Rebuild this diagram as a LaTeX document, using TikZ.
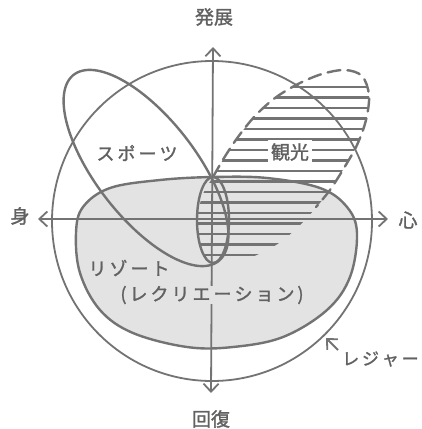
\documentclass[tikz,border=0pt]{standalone}
\usepackage{fontspec}
\newfontfamily\jp{Noto Sans CJK JP}[FakeBold=1.5]
\usetikzlibrary{arrows.meta}
\begin{document}
\begin{tikzpicture}[x=1pt,y=-1pt,
  ln/.style={draw=black!55, line width=2.4pt, line cap=round, line join=round},
  thinln/.style={draw=black!55, line width=1.8pt},
  ax/.style={draw=black!55, line width=1.8pt, >={Straight Barb[length=8pt,width=15pt]}},
  lbl/.style={text=black!62, font=\jp\fontsize{18}{20}\selectfont, inner sep=1pt},
  big/.style={text=black!62, font=\jp\fontsize{19}{21}\selectfont, inner sep=1pt},
]
\useasboundingbox[fill=white] (0,0) rectangle (421,429);

% resort (recreation) region
\def\resort{(213,177) (267,178) (320,188) (347,207) (357,233) (350,277) (327,310) (283,337) (233,347) (187,347) (133,333) (100,310) (80,273) (76,233) (83,207) (110,188) (160,180)}
\fill[black!11] plot[smooth cycle, tension=0.6] coordinates {\resort};

% sightseeing hatched region
\begin{scope}
  \clip plot[smooth cycle, tension=0.55] coordinates {(213,177) (224,158) (238,137) (255,116) (275,98) (298,84) (322,74) (345,70) (362,76) (369,95) (366,120) (357,145) (344,168) (330,190) (314,210) (296,229) (276,245) (252,257) (230,263) (213,264) (200,247) (197,220) (203,194)};
  \foreach \yy in {87,97.5,108,118.5,129,139.5,150,160.5,171,181.5,192,202.5,213,223.5,234,244.5,255} 
    \draw[black!55, line width=2.4pt] (180,\yy) -- (380,\yy);
\end{scope}

% resort outline
\draw[ln] plot[smooth cycle, tension=0.6] coordinates {\resort};

% leisure circle
\draw[thinln] (212,221) circle[radius=160];

% sports ellipse
\draw[ln] plot[domain=0:360, samples=120, smooth] ({146+118*cos(\x)*0.613-50*sin(\x)*0.790}, {168+118*cos(\x)*0.790+50*sin(\x)*0.613});

% small ellipse at centre
\draw[ln] (213,220) ellipse[x radius=16, y radius=43];

% dashed outline of sightseeing
\draw[ln, dash pattern=on 13pt off 7pt] plot[smooth, tension=0.55] coordinates {(213,177) (224,158) (238,137) (255,116) (275,98) (298,84) (322,74) (345,70) (362,76) (369,95) (366,120) (357,145) (344,168) (330,190) (316,207)};

% axes
\coordinate (ytop) at (213,47);
\coordinate (ybot) at (211,393);
\coordinate (xl) at (38,219);
\coordinate (xr) at (388,219);
\draw[ax, <->] (ybot) -- (ytop);
\draw[ax, <->] (xl) -- (xr);

% labels
\node[big] (hatten) at (214,17) {発展};
\node[big] (kaifuku) at (211,419) {回復};
\node[big] (mi) at (20,216) {身};
\node[big] (kokoro) at (408,220) {心};
\node[lbl] (sports) at (137,153) {ス\,ポ\,ー\,ツ};
\node[big, fill=white, inner sep=3pt] (kanko) at (290,152) {観光};
\node[lbl] (resortlbl) at (129,268) {リ\,ゾ\,ー\,ト};
\node[lbl, fill=black!11, inner sep=0pt] (recr) at (212,295) {(\,レ\,ク\,リ\,エ\,ー\,シ\,ョ\,ン\,)};
\node[lbl, anchor=west, font=\jp\fontsize{17}{19}\selectfont] (leisure) at (341,359) {レ\,ジ\,ャ\,ー};
\coordinate (ltip) at (326,338);
\coordinate (ltail) at (338,350);
\draw[ax, ->] (ltail) -- (ltip);
\end{tikzpicture}
\end{document}
